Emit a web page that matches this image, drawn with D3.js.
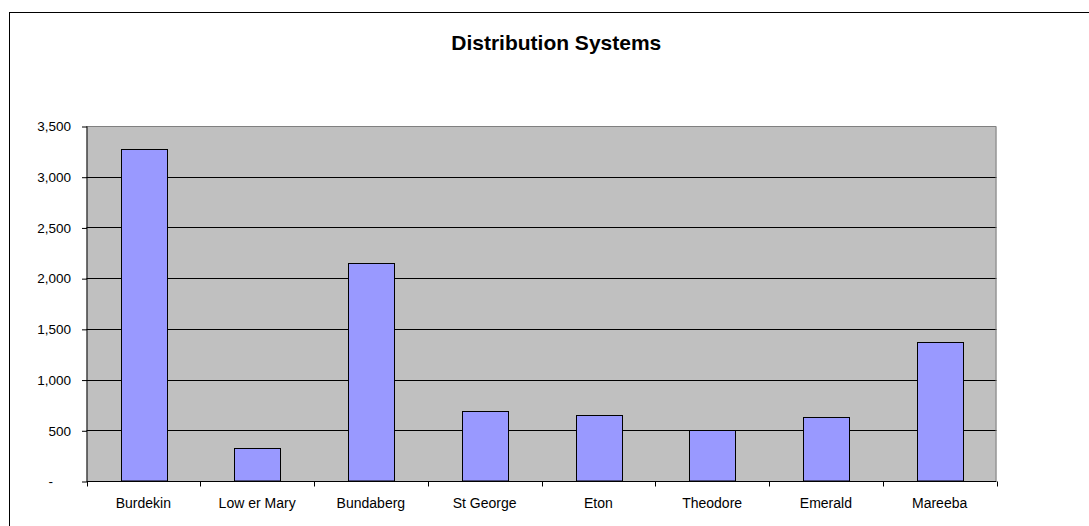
<!DOCTYPE html>
<html>
<head>
<meta charset="utf-8">
<script src="https://cdn.jsdelivr.net/npm/d3@7"></script>
<style>
  html, body { margin: 0; padding: 0; background: #fff; }
  svg { display: block; font-family: "Liberation Sans", Arial, sans-serif; }
</style>
</head>
<body>
<svg id="chart" width="1089" height="526"></svg>
<script>
// Chart data
const categories = ["Burdekin", "Low er Mary", "Bundaberg", "St George", "Eton", "Theodore", "Emerald", "Mareeba"];
const values = [3275, 330, 2145, 690, 650, 505, 635, 1370];
const yTicks = [0, 500, 1000, 1500, 2000, 2500, 3000, 3500];
const chartTitle = "Distribution Systems";

const svg = d3.select("#chart");
const W = 1089, H = 526;
const frame = { left: 9.5, top: 12.5, right: 1103 };
const plot = { left: 86.5, top: 126, right: 996.5, bottom: 481 };

// Outer chart frame (runs past the right and bottom edges of the page)
svg.append("rect")
  .attr("x", frame.left).attr("y", frame.top)
  .attr("width", frame.right - frame.left).attr("height", H + 20)
  .attr("fill", "#fff").attr("stroke", "#000").attr("stroke-width", 1);

const x = d3.scaleBand().domain(categories).range([plot.left, plot.right]).paddingInner(0).paddingOuter(0);
const y = d3.scaleLinear().domain([0, 3500]).range([plot.bottom, plot.top]);

// Plot area background
svg.append("rect")
  .attr("x", plot.left).attr("y", plot.top)
  .attr("width", plot.right - plot.left).attr("height", plot.bottom - plot.top)
  .attr("fill", "#c0c0c0");

// Horizontal gridlines
svg.append("g").selectAll("line")
  .data(yTicks.filter(d => d > 0 && d < 3500))
  .join("line")
  .attr("x1", plot.left).attr("x2", plot.right)
  .attr("y1", d => Math.round(y(d)) + 0.5).attr("y2", d => Math.round(y(d)) + 0.5)
  .attr("stroke", "#000").attr("stroke-width", 1);

// Plot border on top and right
svg.append("path")
  .attr("d", `M${plot.left},${plot.top + 0.5}H${plot.right - 0.5}V${plot.bottom}`)
  .attr("fill", "none").attr("stroke", "#808080").attr("stroke-width", 1);

// Bars (gap width 150%)
const bw = x.bandwidth() / 2.5;
svg.append("g").selectAll("rect")
  .data(values)
  .join("rect")
  .attr("x", (d, i) => Math.round(x(categories[i]) + (x.bandwidth() - bw) / 2) + 0.5)
  .attr("y", d => Math.round(y(d)) + 0.5)
  .attr("width", Math.round(bw))
  .attr("height", d => Math.round(plot.bottom) - Math.round(y(d)) - 0.5)
  .attr("fill", "#9999ff")
  .attr("stroke", "#000").attr("stroke-width", 1);

// Y axis (accounting style: zero shown as a dash)
const yAxis = d3.axisLeft(y)
  .tickValues(yTicks)
  .tickSize(5)
  .tickPadding(11)
  .tickFormat(d => d === 0 ? "-" : d3.format(",")(d));
const gy = svg.append("g")
  .attr("transform", `translate(${plot.left + 0.5},0.5)`)
  .call(yAxis);
gy.select(".domain").attr("stroke", "#000").attr("d", `M0,${plot.top}V${plot.bottom}`);
gy.selectAll(".tick line").attr("stroke", "#000");
gy.selectAll(".tick text")
  .attr("fill", "#000").attr("font-size", 13.5)
  .attr("font-family", "Liberation Sans, Arial, sans-serif")
  .attr("dx", d => d === 0 ? -18 : 0);

// X axis with ticks at category boundaries
const gx = svg.append("g").attr("transform", `translate(0,${plot.bottom + 0.5})`);
gx.append("line")
  .attr("x1", plot.left).attr("x2", plot.right)
  .attr("stroke", "#000");
const bounds = categories.map(c => x(c)).concat([plot.right]);
gx.selectAll("line.tk")
  .data(bounds)
  .join("line").attr("class", "tk")
  .attr("x1", d => Math.round(d) + 0.5).attr("x2", d => Math.round(d) + 0.5)
  .attr("y1", 0).attr("y2", 5)
  .attr("stroke", "#000");
gx.selectAll("text")
  .data(categories)
  .join("text")
  .attr("x", d => x(d) + x.bandwidth() / 2)
  .attr("y", 26)
  .attr("text-anchor", "middle")
  .attr("font-size", 14)
  .attr("fill", "#000")
  .text(d => d);

// Title, centred on the chart frame
svg.append("text")
  .attr("x", (frame.left + frame.right) / 2)
  .attr("y", 49.5)
  .attr("text-anchor", "middle")
  .attr("font-size", 21)
  .attr("font-weight", "bold")
  .attr("fill", "#000")
  .text(chartTitle);
</script>
</body>
</html>
